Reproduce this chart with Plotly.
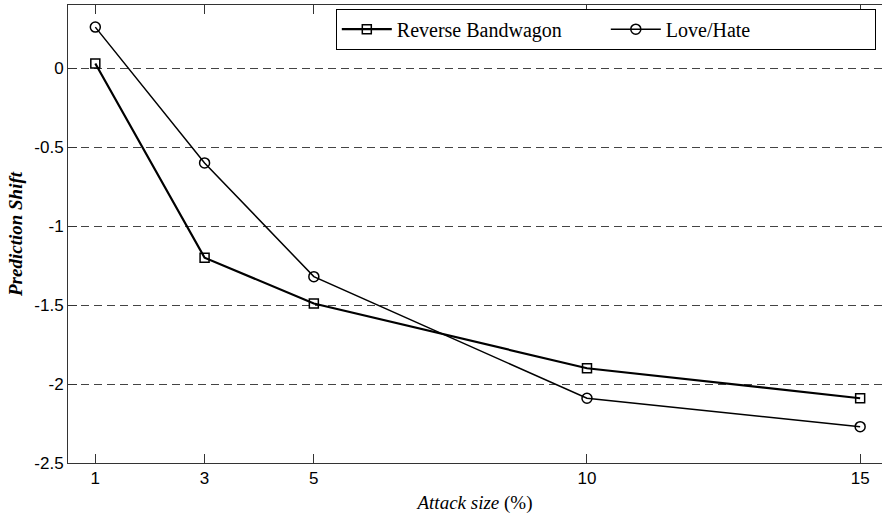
import plotly.graph_objects as go

attack_size = [1, 3, 5, 10, 15]
reverse_bandwagon = [0.03, -1.20, -1.49, -1.90, -2.09]
love_hate = [0.26, -0.60, -1.32, -2.09, -2.27]
y_ticks = [0, -0.5, -1, -1.5, -2, -2.5]
y_tick_labels = ["0", "-0.5", "-1", "-1.5", "-2", "-2.5"]

fig = go.Figure()
fig.add_trace(go.Scatter(
    x=attack_size, y=reverse_bandwagon, name="Reverse Bandwagon",
    mode="lines+markers",
    line=dict(color="black", width=2.2),
    marker=dict(symbol="square-open", size=9, color="black", line=dict(width=1.5)),
))
fig.add_trace(go.Scatter(
    x=attack_size, y=love_hate, name="Love/Hate",
    mode="lines+markers",
    line=dict(color="black", width=1.5),
    marker=dict(symbol="circle-open", size=10, color="black", line=dict(width=1.5)),
))

fig.update_layout(
    width=882, height=525,
    margin=dict(l=68, r=0, t=5, b=62, autoexpand=False),
    paper_bgcolor="white", plot_bgcolor="white",
    showlegend=True,
    legend=dict(
        orientation="h", x=0.329, y=0.992, xanchor="left", yanchor="top",
        bordercolor="black", borderwidth=1, bgcolor="white",
        font=dict(family="Liberation Serif", size=20, color="black"),
        entrywidth=204, entrywidthmode="pixels",
        itemwidth=50,
    ),
    xaxis=dict(
        range=[0.5, 15.4], tickvals=attack_size,
        ticktext=[str(v) for v in attack_size],
        showgrid=False, zeroline=False,
        showline=True, linecolor="#333", linewidth=1, mirror="allticks",
        ticks="inside", ticklen=9, tickcolor="#333",
        tickfont=dict(family="Liberation Sans", size=17, color="black"),
        title=dict(text="<i>Attack size</i> (%)",
                   font=dict(family="Liberation Serif", size=19, color="black"),
                   standoff=8),
    ),
    yaxis=dict(
        range=[-2.5, 0.4], tickvals=y_ticks, ticktext=y_tick_labels,
        showgrid=True, gridcolor="#444", gridwidth=1, griddash="8px,5px",
        zeroline=False,
        showline=True, linecolor="#333", linewidth=1, mirror=False,
        ticks="inside", ticklen=9, tickcolor="#333",
        tickfont=dict(family="Liberation Sans", size=17, color="black"),
        title=dict(text="<b><i>Prediction Shift</i></b>",
                   font=dict(family="Liberation Serif", size=19, color="black"),
                   standoff=6),
    ),
)

fig.write_html("out.html")
